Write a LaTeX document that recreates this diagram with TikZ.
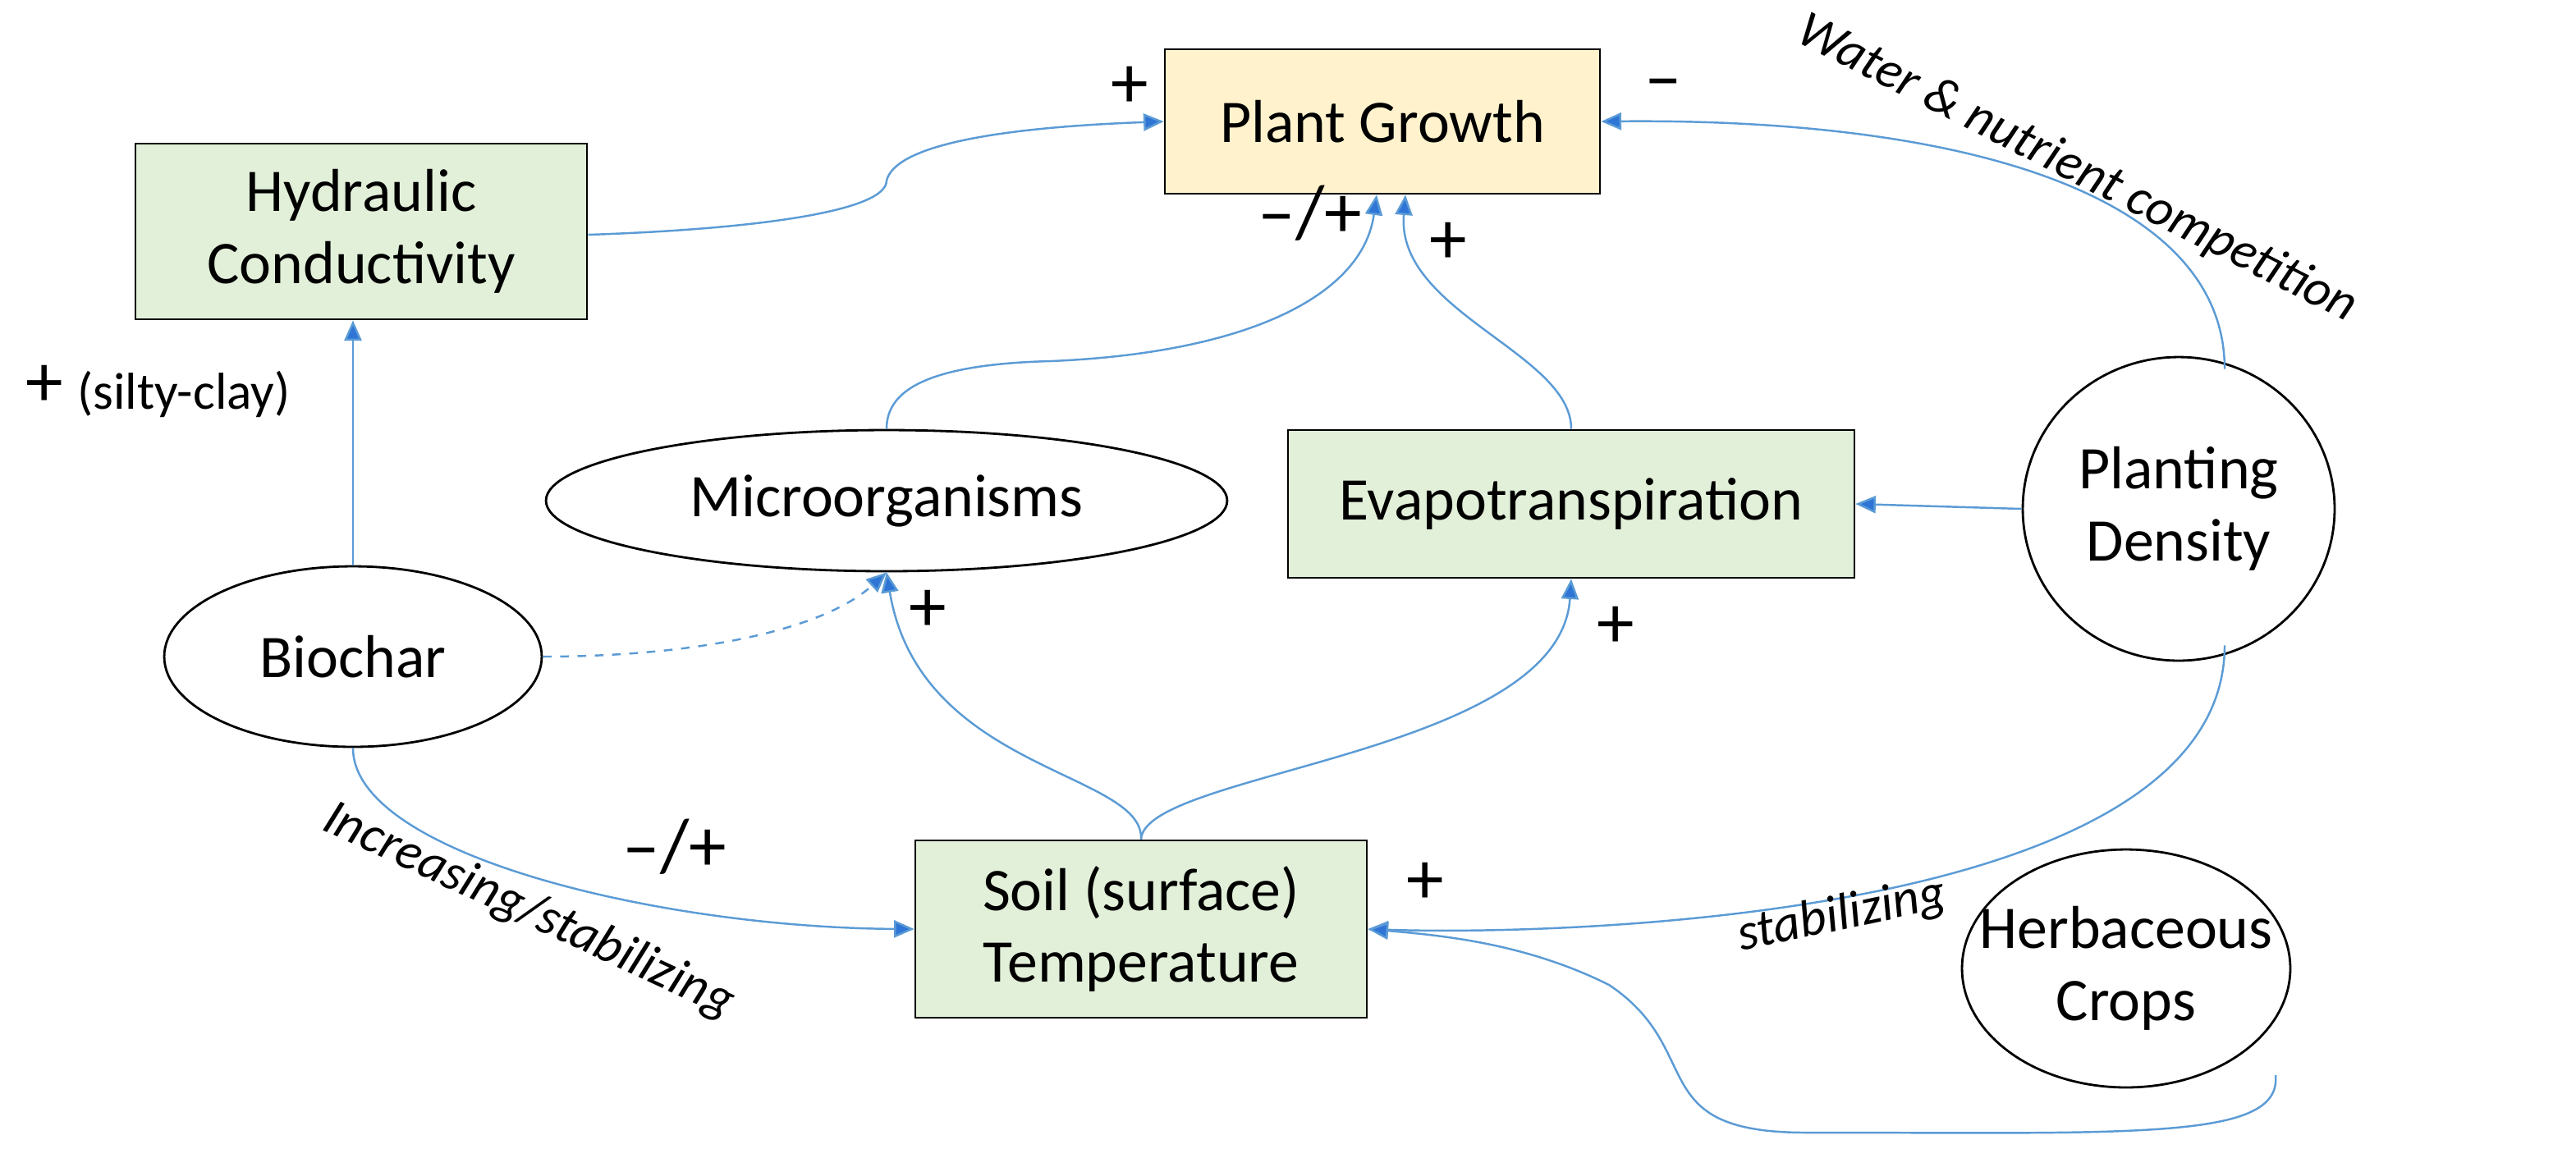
\documentclass[tikz,border=0pt]{standalone}
\usepackage{fontspec}
\setmainfont{Carlito}
\usetikzlibrary{arrows.meta,shapes.geometric}
\definecolor{ln}{HTML}{5B9BD5}
\definecolor{tip}{HTML}{2E75D6}
\definecolor{gr}{HTML}{E2F0D9}
\definecolor{or}{HTML}{FFF2CC}
\begin{document}
\begin{tikzpicture}[x=0.02cm,y=-0.02cm,
 box/.style={draw=black,line width=0.8pt,align=center,font=\fontsize{21}{25}\selectfont,inner sep=0pt},
 ell/.style={draw=black,ellipse,line width=0.8pt,align=center,font=\fontsize{21}{25}\selectfont,inner sep=-0.6cm},
 con/.style={draw=ln,line width=0.7pt,-{Triangle[length=7pt,width=6pt,fill=tip]}},
 lab/.style={font=\fontsize{18}{21}\selectfont},
 big/.style={font=\fontsize{26}{30}\selectfont},
 it/.style={font=\itshape\fontsize{18}{21}\selectfont}]
\useasboundingbox (0,0) rectangle (1569,699.5);
\node[box,fill=or,minimum width=5.3cm,minimum height=1.76cm] (pg) at (842,74) {Plant Growth};
\node[box,fill=gr,minimum width=5.5cm,minimum height=2.14cm] (hc) at (220,141) {Hydraulic\\Conductivity};
\node[ell,minimum width=8.3cm,minimum height=1.72cm] (mo) at (540,305) {Microorganisms};
\node[box,fill=gr,minimum width=6.9cm,minimum height=1.8cm] (ev) at (957,307) {Evapotranspiration};
\node[ell,minimum width=3.8cm,minimum height=3.7cm] (pd) at (1327,310) {Planting\\Density};
\node[ell,minimum width=4.6cm,minimum height=2.2cm] (bc) at (215,400) {Biochar};
\node[box,fill=gr,minimum width=5.5cm,minimum height=2.16cm] (st) at (695,566) {Soil (surface)\\Temperature};
\node[ell,minimum width=4cm,minimum height=2.9cm] (hb) at (1295,590) {Herbaceous\\Crops};
\coordinate (c1) at (1386,655);
% connectors
\draw[con] (hc.east) ++(0,2) .. controls (450,140) and (540,130) .. (540,110) .. controls (545,90) and (600,78) .. (pg.west);
\draw[con] (mo.north) .. controls (540,240) and (560,222) .. (640,220) .. controls (760,215) and (830,180) .. ([xshift=-2pt]pg.south);
\draw[con] (ev.north) .. controls (957,215) and (850,190) .. ([xshift=8pt]pg.south);
\draw[con] (pd.north) ++(28,8) .. controls (1355,120) and (1200,72) .. (pg.east);
\draw[con] (pd.west) -- (ev.east);
\draw[con] (pd.south) ++(28,-10) .. controls (1355,560) and (950,570) .. (st.east);
\draw[con] (c1) .. controls (1390,695) and (1300,690) .. (1100,690) .. controls (1000,690) and (1040,640) .. (980,600) .. controls (930,575) and (880,570) .. (st.east);
\draw[con] (bc.north) -- (bc.north |- hc.south);
\draw[con,dashed] (bc.east) .. controls (420,400) and (500,385) .. (mo.south);
\draw[con] (bc.south) .. controls (215,520) and (400,565) .. (st.west);
\draw[con] (st.north) .. controls (697,470) and (560,470) .. (mo.south);
\draw[con] (st.north) .. controls (697,470) and (950,460) .. (ev.south);
% labels
\node[big] (l1) at (688,53) {+};
\node[big] (l2) at (1013,55) {–};
\node[big] (l3) at (798,130) {–/+};
\node[big] (l4) at (882,148) {+};
\node[big] (l5) at (27,235) {+};
\node[lab] (l6) at (112,240) {(silty-clay)};
\node[big] (l7) at (565,372) {+};
\node[big] (l8) at (984,382) {+};
\node[big] (l9) at (411,516) {–/+};
\node[big] (l10) at (868,538) {+};
\node[it,rotate=-25] (t1) at (322,555) {Increasing/stabilizing};
\node[it,rotate=12] (t2) at (1122,558) {stabilizing};
\node[it,rotate=-27] (t3) at (1265,103) {Water \& nutrient competition};
\end{tikzpicture}
\end{document}
